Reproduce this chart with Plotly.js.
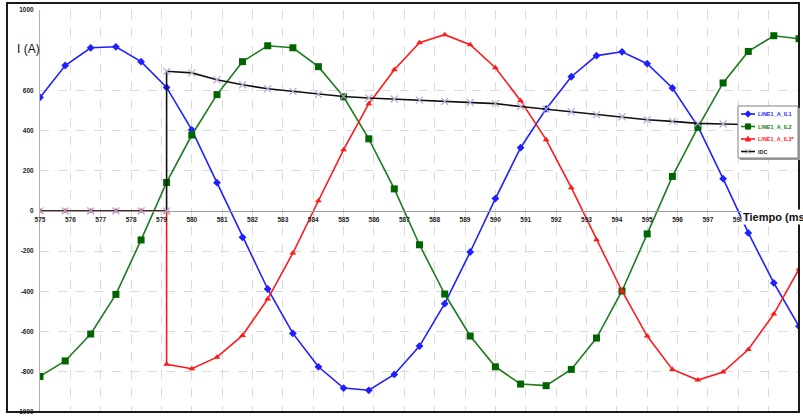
<!DOCTYPE html>
<html>
<head>
<meta charset="utf-8">
<script src="https://cdn.plot.ly/plotly-3.0.1.min.js"></script>
<style>html,body{margin:0;padding:0;background:#fff;}#chart{width:803px;height:419px;}</style>
</head>
<body>
<div id="chart"></div>
<script>
// sample times (ms), 1.2 kHz sampling
var tiempo = [575.00,575.83,576.67,577.50,578.33,579.17,580.00,580.83,581.67,582.50,
              583.33,584.17,585.00,585.83,586.67,587.50,588.33,589.17,590.00,590.83,
              591.67,592.50,593.33,594.17,595.00,595.83,596.67,597.50,598.33,599.17,600.00];
// times for the stepped series (duplicate sample at 579.17)
var tiempoStep = [575.00,575.83,576.67,577.50,578.33,579.17,579.17,580.00,580.83,581.67,582.50,
              583.33,584.17,585.00,585.83,586.67,587.50,588.33,589.17,590.00,590.83,
              591.67,592.50,593.33,594.17,595.00,595.83,596.67,597.50,598.33,599.17,600.00];

var il1 = [565,724,812,817,743,615,404,141,-131,-388,
           -609,-775,-881,-892,-813,-672,-461,-204,62,315,
           508,668,773,792,733,612,421,161,-109,-358,-574];
var il2 = [-823,-746,-612,-415,-144,142,378,579,743,822,
           812,718,568,359,110,-168,-413,-622,-775,-861,
           -869,-788,-632,-398,-114,172,416,637,794,872,857];
var il3 = [0,0,0,0,0,0,-763,-785,-727,-619,-438,
           -209,51,305,534,703,837,877,827,713,549,
           355,116,-143,-398,-622,-788,-841,-801,-689,-513,-289];
var idc = [0,0,0,0,0,0,695,687,653,628,608,
           595,580,570,562,557,552,545,540,534,520,
           507,494,479,469,454,446,436,433,430,427,424];

var seriesNames = ['LINE1_A_IL1', 'LINE1_A_IL2', 'LINE1_A_IL3*', 'IDC'];
var xTicks = [575,576,577,578,579,580,581,582,583,584,585,586,587,588,589,590,591,592,593,594,595,596,597,598,599];
var yTicks = [-1000,-800,-600,-400,-200,0,200,400,600,1000];

var lineCols = ['#1f1fff', '#1e7b1e', '#ff1a1a', '#111111'];
var textCols = ['#1f1fff', '#1a7a1a', '#ff2020', '#1a1a40'];

var traces = [
  {x: tiempo, y: il1, name: seriesNames[0], mode: 'lines+markers',
   line: {color: lineCols[0], width: 1.6}, marker: {symbol: 'diamond', size: 6, color: '#1f1fff'}},
  {x: tiempo, y: il2, name: seriesNames[1], mode: 'lines+markers',
   line: {color: lineCols[1], width: 1.6}, marker: {symbol: 'square', size: 7, color: '#006400'}},
  {x: tiempoStep, y: il3, name: seriesNames[2], mode: 'lines+markers',
   line: {color: lineCols[2], width: 1.6}, marker: {symbol: 'triangle-up', size: 6, color: '#ff1a1a'}},
  {x: tiempoStep, y: idc, name: seriesNames[3], mode: 'lines+markers',
   line: {color: lineCols[3], width: 1.6}, marker: {symbol: 'x-thin', size: 7, line: {color: '#b8a8d8', width: 1.2}, color: '#b8a8d8'}}
];

// paper <-> pixel helpers (paper spans x 7..799, y 3..412)
function px(x) { return (x - 7) / 792; }
function py(y) { return (412 - y) / 409; }

var yDom = [0, py(10)];
var zeroPos = (yDom[0] + yDom[1]) / 2;

var shapes = [
  {type: 'rect', xref: 'paper', yref: 'paper', x0: 0, x1: 1, y0: 0, y1: 1,
   line: {color: '#1a1a1a', width: 2}, fillcolor: 'rgba(0,0,0,0)', layer: 'above'},
  // legend box
  {type: 'rect', xref: 'paper', yref: 'paper', x0: px(740), x1: px(800), y0: py(160), y1: py(108),
   line: {width: 0}, fillcolor: '#9a9a9a', layer: 'above'},
  {type: 'rect', xref: 'paper', yref: 'paper', x0: px(738), x1: px(798), y0: py(158), y1: py(106),
   line: {color: '#808080', width: 1}, fillcolor: '#ffffff', layer: 'above'}
];
var markerPaths = [
  'M0,3.2 L3.2,0 L0,-3.2 L-3.2,0 Z',
  'M-2.6,-2.6 L2.6,-2.6 L2.6,2.6 L-2.6,2.6 Z',
  'M-2.6,-2 L2.6,-2 L0,2.6 Z',
  'M-2.6,-2.6 L2.6,2.6 M-2.6,2.6 L2.6,-2.6'
];
var markerFill = ['#1f1fff', '#006400', '#ff1a1a', 'rgba(0,0,0,0)'];
var markerLine = ['#1f1fff', '#006400', '#ff1a1a', '#a898c8'];
var rowsY = [114, 126.5, 139, 151.5];
var annotations = [
  {xref: 'paper', yref: 'paper', x: px(28), y: py(49), text: 'I (A)', showarrow: false,
   xanchor: 'center', yanchor: 'middle',
   font: {family: 'Liberation Sans, Arial, sans-serif', size: 12, color: '#111'}},
  {xref: 'paper', yref: 'paper', x: px(741), y: zeroPos, yshift: -6, text: '<b>Tiempo (ms)</b>', showarrow: false,
   xanchor: 'left', yanchor: 'middle', bgcolor: '#ffffff', borderpad: 1,
   font: {family: 'Liberation Sans, Arial, sans-serif', size: 11, color: '#111'}}
];
for (var i = 0; i < seriesNames.length; i++) {
  shapes.push({type: 'line', xref: 'paper', yref: 'paper', x0: px(741), x1: px(755), y0: py(rowsY[i]), y1: py(rowsY[i]),
               line: {color: lineCols[i], width: 1.6}, layer: 'above'});
  shapes.push({type: 'path', xref: 'paper', yref: 'paper', xsizemode: 'pixel', ysizemode: 'pixel',
               xanchor: px(748), yanchor: py(rowsY[i]), path: markerPaths[i],
               fillcolor: markerFill[i], line: {color: markerLine[i], width: 1}, layer: 'above'});
  annotations.push({xref: 'paper', yref: 'paper', x: px(756.5), y: py(rowsY[i]), text: '<b>' + seriesNames[i] + '</b>',
                    showarrow: false, xanchor: 'left', yanchor: 'middle', borderpad: 0,
                    font: {family: 'Liberation Sans, Arial, sans-serif', size: 5.5, color: textCols[i]}});
}

var layout = {
  width: 803, height: 419,
  margin: {l: 7, r: 4, t: 3, b: 7},
  paper_bgcolor: '#ffffff', plot_bgcolor: '#ffffff',
  font: {family: 'Liberation Sans, Arial, sans-serif', size: 6.5, color: '#222'},
  showlegend: false,
  xaxis: {
    domain: [px(40), 1],
    range: [575, 600], tickvals: xTicks, ticktext: xTicks.map(String),
    anchor: 'free', position: zeroPos,
    showline: true, linecolor: '#9a9a9a', linewidth: 1,
    showgrid: true, gridcolor: '#dadada', griddash: 'dash', gridwidth: 1,
    zeroline: false, ticks: '', ticklabelstandoff: 2,
    tickfont: {family: 'Liberation Sans, Arial, sans-serif', size: 6.5, color: '#222', weight: 'bold'},
    fixedrange: true
  },
  yaxis: {
    domain: yDom,
    range: [-1000, 1000], tickvals: yTicks, ticktext: yTicks.map(String),
    showline: true, linecolor: '#b0b0b0', linewidth: 1,
    showgrid: true, gridcolor: '#dadada', griddash: 'dash', gridwidth: 1,
    zeroline: false, ticks: '', ticklabelstandoff: 4,
    tickfont: {family: 'Liberation Sans, Arial, sans-serif', size: 6.5, color: '#222', weight: 'bold'},
    fixedrange: true
  },
  shapes: shapes,
  annotations: annotations
};

Plotly.newPlot('chart', traces, layout, {displayModeBar: false, staticPlot: true});
</script>
</body>
</html>
